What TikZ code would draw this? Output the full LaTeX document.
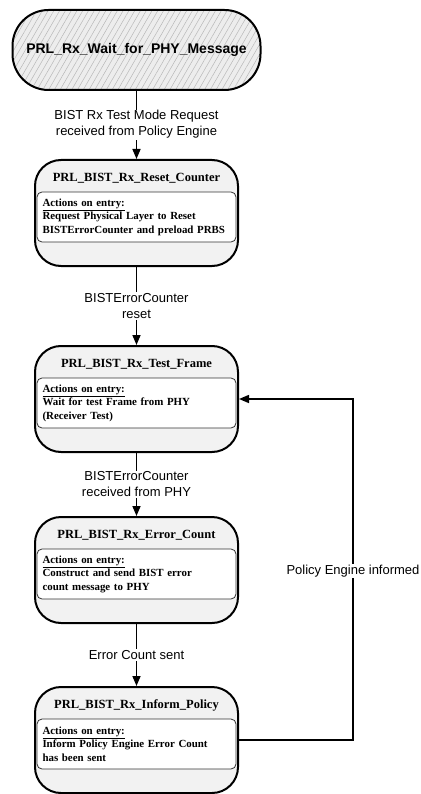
\documentclass[tikz,border=0pt]{standalone}
\usepackage{fontspec}
\setmainfont{Liberation Serif}
\setsansfont{Liberation Sans}
\usetikzlibrary{patterns.meta,arrows.meta}
\definecolor{statefill}{HTML}{F2F2F2}
\definecolor{hatchfill}{HTML}{EDEDED}
\definecolor{hatchline}{HTML}{B8B8B8}
\tikzset{
  waitbox/.style={draw, line width=2pt, rounded corners=36pt, minimum width=248pt, minimum height=80pt,
    preaction={fill=hatchfill}, pattern={Lines[angle=60,distance=5pt,line width=0.5pt]}, pattern color=hatchline,
    font=\sffamily\bfseries\fontsize{14}{16}\selectfont},
  statebox/.style={draw, line width=2pt, rounded corners=26pt, fill=statefill, minimum width=203pt, minimum height=106pt, inner sep=0pt},
  titletext/.style={font=\bfseries\fontsize{12.5}{15}\selectfont, inner sep=0pt},
  entrybox/.style={draw=black!80, line width=0.8pt, rounded corners=5pt, fill=white, minimum width=199pt, minimum height=50pt,
    text width=188pt, inner xsep=5.5pt, inner ysep=0pt, align=left, font=\bfseries\fontsize{10.9}{13.5}\selectfont},
  lbl/.style={fill=white, inner sep=1pt, align=center, font=\sffamily\fontsize{13}{16}\selectfont},
  conn/.style={line width=1.5pt, -{Triangle[length=10pt,width=8pt]}}
}
\begin{document}
\begin{tikzpicture}[x=1pt,y=-1pt]
\useasboundingbox (0,0) rectangle (420,794);
\node[waitbox] (w) at (136.5,50) {PRL\_Rx\_Wait\_for\_PHY\_Message};

\node[statebox] (s1) at (136.5,213) {};
\node[titletext] (t1) at (136.5,178) {PRL\_BIST\_Rx\_Reset\_Counter};
\node[entrybox] (e1) at (136.5,217) {\underline{Actions on entry:}\\Request Physical Layer to Reset\\BISTErrorCounter and preload PRBS};

\node[statebox] (s2) at (136.5,399) {};
\node[titletext] (t2) at (136.5,364) {PRL\_BIST\_Rx\_Test\_Frame};
\node[entrybox] (e2) at (136.5,403) {\underline{Actions on entry:}\\Wait for test Frame from PHY\\(Receiver Test)};

\node[statebox] (s3) at (136.5,570) {};
\node[titletext] (t3) at (136.5,535) {PRL\_BIST\_Rx\_Error\_Count};
\node[entrybox] (e3) at (136.5,574) {\underline{Actions on entry:}\\Construct and send BIST error\\count message to PHY};

\node[statebox] (s4) at (136.5,740) {};
\node[titletext] (t4) at (136.5,705) {PRL\_BIST\_Rx\_Inform\_Policy};
\node[entrybox] (e4) at (136.5,744) {\underline{Actions on entry:}\\Inform Policy Engine Error Count\\has been sent};

\draw[conn] (w) -- node[lbl] {BIST Rx Test Mode Request\\received from Policy Engine} (s1);
\draw[conn] (s1) -- node[lbl] {BISTErrorCounter\\reset} (s2);
\draw[conn] (s2) -- node[lbl] {BISTErrorCounter\\received from PHY} (s3);
\draw[conn] (s3) -- node[lbl] {Error Count sent} (s4);

\coordinate (lp) at (353,571);
\draw[conn] (s4.east) -| (lp) |- (s2.east);
\node[lbl] (lpl) at (lp) {Policy Engine informed};
\end{tikzpicture}
\end{document}
